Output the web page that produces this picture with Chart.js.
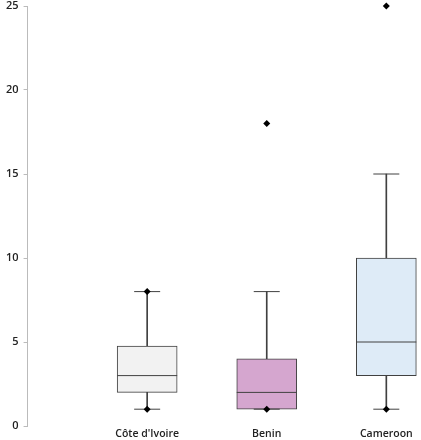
<!DOCTYPE html>
<html>
<head>
<meta charset="utf-8">
<script src="https://cdn.jsdelivr.net/npm/chart.js@4"></script>
<style>
  html, body { margin: 0; padding: 0; background: #fff; }
  #wrap { width: 421px; height: 440px; }
</style>
</head>
<body>
<div id="wrap"><canvas id="boxChart"></canvas></div>
<script>
const categories = ["Côte d'Ivoire", 'Benin', 'Cameroon'];
const mins    = [1, 1, 1];
const q1s     = [2, 1, 3];
const medians = [3, 2, 5];
const q3s     = [4.75, 4, 10];
const maxs    = [8, 8, 15];
const outliers = [[8, 1], [18, 1], [25, 1]];
const boxColors = ['#f2f2f2', '#d5a6cf', '#deebf7'];
const yTicks = [0, 5, 10, 15, 20, 25];

(() => {
    'use strict'
    const chart = document.querySelector('#boxChart') ?? '';
    if (chart == '') return false;

    const pos = categories.map((c, i) => i + 1);
    const edge = '#404040';

    new Chart(chart, {
        type: 'bar',
        data: {
            datasets: [
                {
                    label: 'upper whisker',
                    data: pos.map((x, i) => ({ x: x, y: [q3s[i], maxs[i]] })),
                    backgroundColor: edge,
                    barThickness: 1,
                    grouped: false,
                    order: 3
                },
                {
                    label: 'lower whisker',
                    data: pos.map((x, i) => ({ x: x, y: [mins[i], q1s[i]] })),
                    backgroundColor: edge,
                    barThickness: 1,
                    grouped: false,
                    order: 3
                },
                {
                    label: 'box',
                    data: pos.map((x, i) => ({ x: x, y: [q1s[i], q3s[i]] })),
                    backgroundColor: boxColors,
                    borderColor: edge,
                    borderWidth: 1,
                    borderSkipped: false,
                    barThickness: 60,
                    grouped: false,
                    order: 2
                },
                {
                    type: 'scatter',
                    label: 'median',
                    data: pos.map((x, i) => ({ x: x, y: medians[i] })),
                    pointStyle: 'line',
                    radius: 30,
                    borderColor: edge,
                    borderWidth: 1,
                    order: 1
                },
                {
                    type: 'scatter',
                    label: 'caps',
                    data: pos.flatMap((x, i) => [{ x: x, y: mins[i] }, { x: x, y: maxs[i] }]),
                    pointStyle: 'line',
                    radius: 13,
                    borderColor: edge,
                    borderWidth: 1,
                    order: 1
                },
                {
                    type: 'scatter',
                    label: 'points',
                    data: pos.flatMap((x, i) => outliers[i].map(v => ({ x: x, y: v }))),
                    pointStyle: 'rectRot',
                    radius: 3.5,
                    backgroundColor: '#000',
                    borderColor: '#000',
                    borderWidth: 0,
                    clip: false,
                    order: 0
                }
            ]
        },
        options: {
            responsive: true,
            maintainAspectRatio: false,
            animation: false,
            layout: { autoPadding: false, padding: { top: 6, right: 0, left: 1, bottom: 0 } },
            plugins: {
                legend: { display: false },
                tooltip: { enabled: false }
            },
            scales: {
                x: {
                    type: 'linear',
                    offset: false,
                    min: 0,
                    max: 3.29,
                    afterBuildTicks: (axis) => { axis.ticks = pos.map(v => ({ value: v })); },
                    afterFit: (axis) => { axis.height = 14; },
                    ticks: {
                        callback: (v) => categories[v - 1] ?? '',
                        color: '#222',
                        font: { family: 'Open Sans', size: 10.5, weight: '600' },
                        padding: -6,
                        maxRotation: 0
                    },
                    grid: { display: false },
                    border: { display: false }
                },
                y: {
                    min: 0,
                    max: 25,
                    afterBuildTicks: (axis) => { axis.ticks = yTicks.map(v => ({ value: v })); },
                    afterFit: (axis) => { axis.paddingTop = 0; axis.paddingBottom = 0; },
                    ticks: {
                        color: '#222',
                        font: { family: 'Open Sans', size: 11, weight: '600' },
                        padding: 5
                    },
                    grid: {
                        drawOnChartArea: false,
                        drawTicks: true,
                        tickLength: 4,
                        color: '#bbb'
                    },
                    border: { color: '#bbb', width: 1 }
                }
            }
        }
    });
})();
</script>
</body>
</html>
